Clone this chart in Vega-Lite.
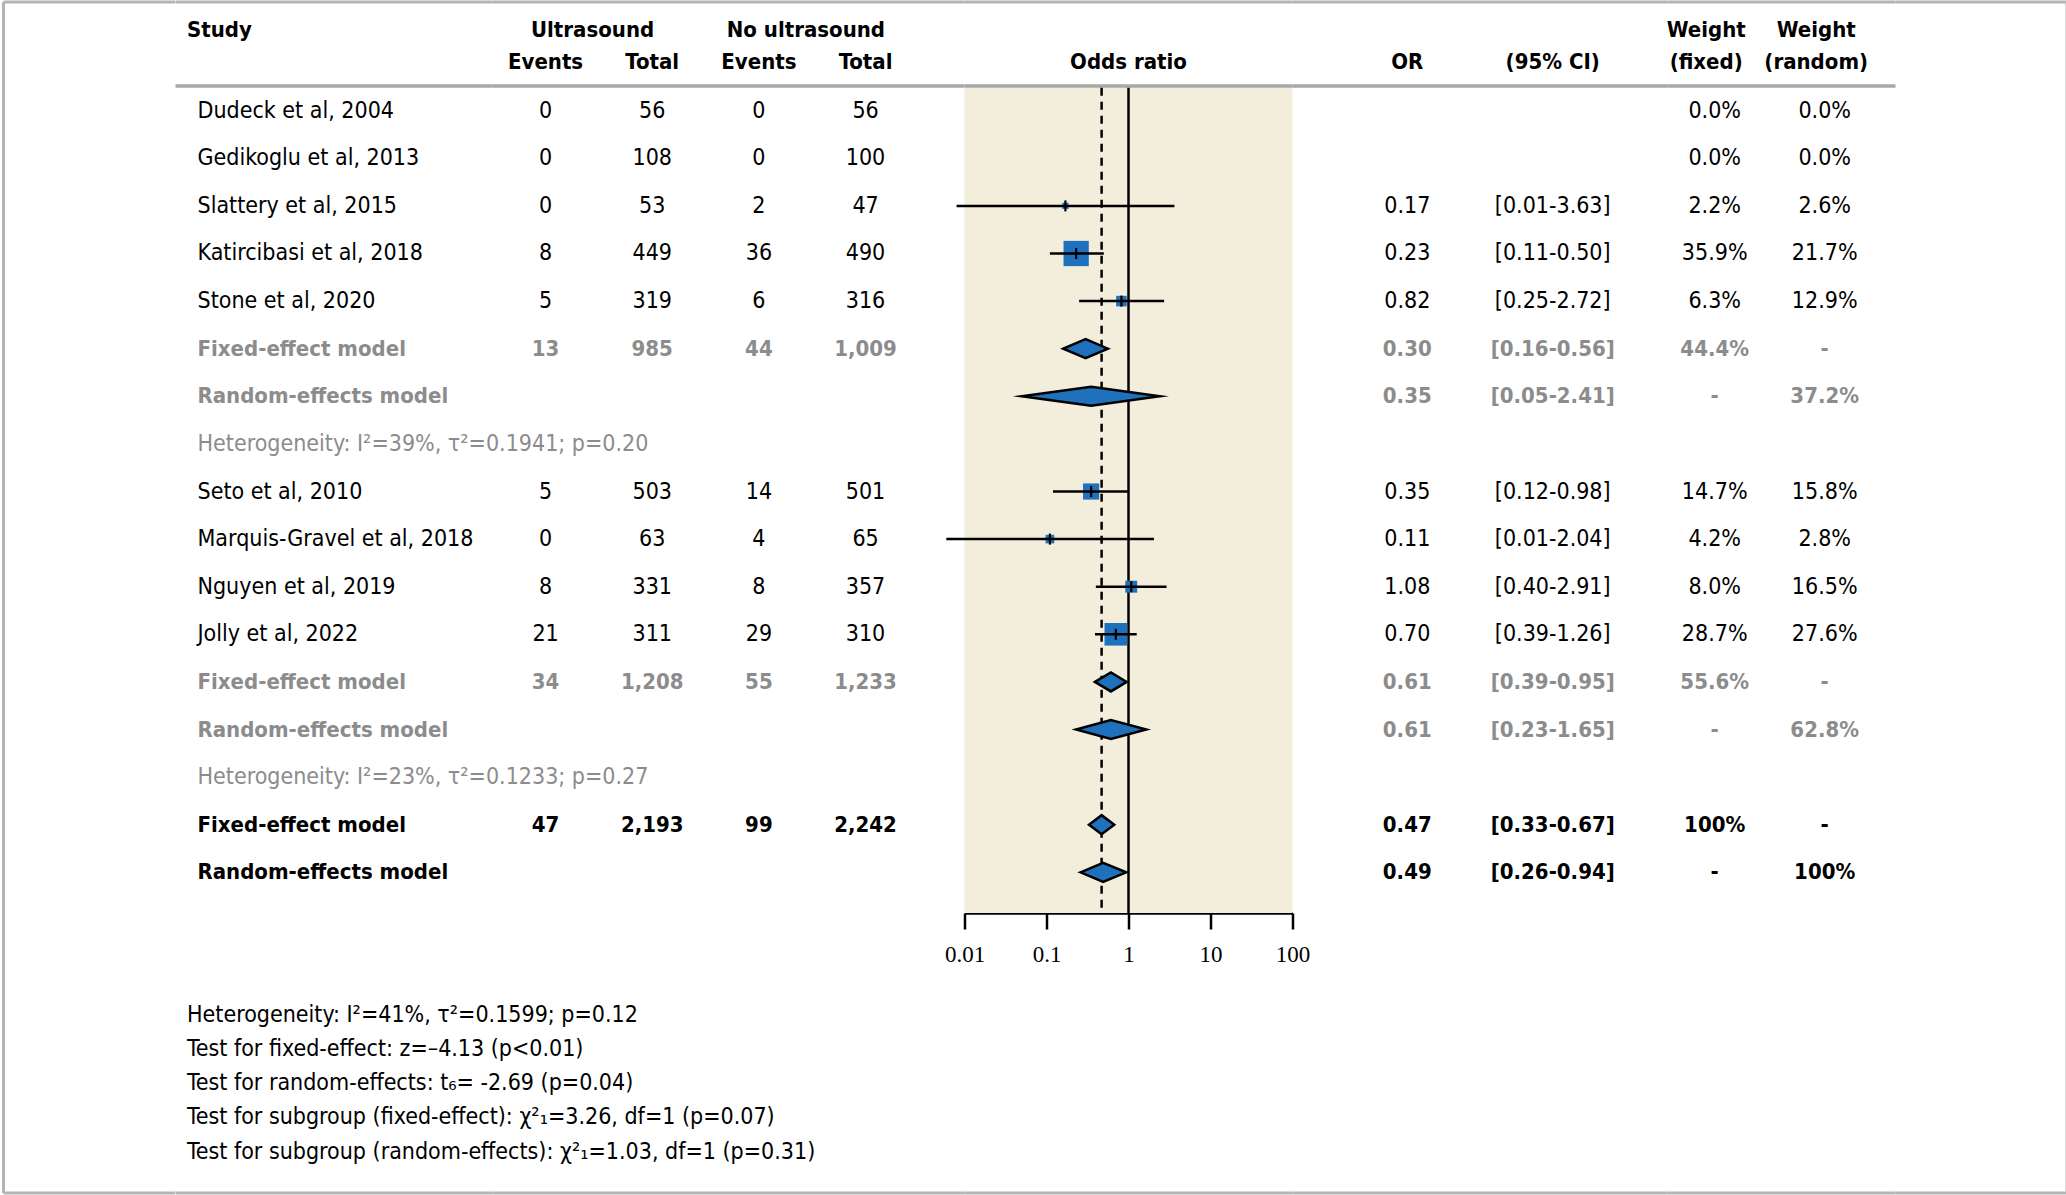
{
  "$schema": "https://vega.github.io/schema/vega-lite/v6.json",
  "background": "white",
  "padding": {"left": 1.5, "right": 1.5, "top": 0, "bottom": 0},
  "spacing": 0,
  "bounds": "flush",
  "config": {"view": {"stroke": null}},
  "datasets": {
    "rows": [
      {"row": 1, "kind": "study", "study": "Dudeck et al, 2004", "ev_u": "0", "tot_u": "56", "ev_n": "0", "tot_n": "56", "or_txt": "", "ci_txt": "", "wf": "0.0%", "wr": "0.0%"},
      {"row": 2, "kind": "study", "study": "Gedikoglu et al, 2013", "ev_u": "0", "tot_u": "108", "ev_n": "0", "tot_n": "100", "or_txt": "", "ci_txt": "", "wf": "0.0%", "wr": "0.0%"},
      {"row": 3, "kind": "study", "study": "Slattery et al, 2015", "ev_u": "0", "tot_u": "53", "ev_n": "2", "tot_n": "47", "or_txt": "0.17", "ci_txt": "[0.01-3.63]", "wf": "2.2%", "wr": "2.6%"},
      {"row": 4, "kind": "study", "study": "Katircibasi et al, 2018", "ev_u": "8", "tot_u": "449", "ev_n": "36", "tot_n": "490", "or_txt": "0.23", "ci_txt": "[0.11-0.50]", "wf": "35.9%", "wr": "21.7%"},
      {"row": 5, "kind": "study", "study": "Stone et al, 2020", "ev_u": "5", "tot_u": "319", "ev_n": "6", "tot_n": "316", "or_txt": "0.82", "ci_txt": "[0.25-2.72]", "wf": "6.3%", "wr": "12.9%"},
      {"row": 6, "kind": "sub", "study": "Fixed-effect model", "ev_u": "13", "tot_u": "985", "ev_n": "44", "tot_n": "1,009", "or_txt": "0.30", "ci_txt": "[0.16-0.56]", "wf": "44.4%", "wr": "-"},
      {"row": 7, "kind": "sub", "study": "Random-effects model", "ev_u": "", "tot_u": "", "ev_n": "", "tot_n": "", "or_txt": "0.35", "ci_txt": "[0.05-2.41]", "wf": "-", "wr": "37.2%"},
      {"row": 8, "kind": "het", "study": "Heterogeneity: I²=39%, τ²=0.1941; p=0.20", "ev_u": "", "tot_u": "", "ev_n": "", "tot_n": "", "or_txt": "", "ci_txt": "", "wf": "", "wr": ""},
      {"row": 9, "kind": "study", "study": "Seto et al, 2010", "ev_u": "5", "tot_u": "503", "ev_n": "14", "tot_n": "501", "or_txt": "0.35", "ci_txt": "[0.12-0.98]", "wf": "14.7%", "wr": "15.8%"},
      {"row": 10, "kind": "study", "study": "Marquis-Gravel et al, 2018", "ev_u": "0", "tot_u": "63", "ev_n": "4", "tot_n": "65", "or_txt": "0.11", "ci_txt": "[0.01-2.04]", "wf": "4.2%", "wr": "2.8%"},
      {"row": 11, "kind": "study", "study": "Nguyen et al, 2019", "ev_u": "8", "tot_u": "331", "ev_n": "8", "tot_n": "357", "or_txt": "1.08", "ci_txt": "[0.40-2.91]", "wf": "8.0%", "wr": "16.5%"},
      {"row": 12, "kind": "study", "study": "Jolly et al, 2022", "ev_u": "21", "tot_u": "311", "ev_n": "29", "tot_n": "310", "or_txt": "0.70", "ci_txt": "[0.39-1.26]", "wf": "28.7%", "wr": "27.6%"},
      {"row": 13, "kind": "sub", "study": "Fixed-effect model", "ev_u": "34", "tot_u": "1,208", "ev_n": "55", "tot_n": "1,233", "or_txt": "0.61", "ci_txt": "[0.39-0.95]", "wf": "55.6%", "wr": "-"},
      {"row": 14, "kind": "sub", "study": "Random-effects model", "ev_u": "", "tot_u": "", "ev_n": "", "tot_n": "", "or_txt": "0.61", "ci_txt": "[0.23-1.65]", "wf": "-", "wr": "62.8%"},
      {"row": 15, "kind": "het", "study": "Heterogeneity: I²=23%, τ²=0.1233; p=0.27", "ev_u": "", "tot_u": "", "ev_n": "", "tot_n": "", "or_txt": "", "ci_txt": "", "wf": "", "wr": ""},
      {"row": 16, "kind": "total", "study": "Fixed-effect model", "ev_u": "47", "tot_u": "2,193", "ev_n": "99", "tot_n": "2,242", "or_txt": "0.47", "ci_txt": "[0.33-0.67]", "wf": "100%", "wr": "-"},
      {"row": 17, "kind": "total", "study": "Random-effects model", "ev_u": "", "tot_u": "", "ev_n": "", "tot_n": "", "or_txt": "0.49", "ci_txt": "[0.26-0.94]", "wf": "-", "wr": "100%"}
    ],
    "est": [
      {"id": "s3", "row": 3, "type": "study", "or": 0.17, "lo": 0.008, "hi": 3.63, "w": 2.2},
      {"id": "s4", "row": 4, "type": "study", "or": 0.23, "lo": 0.11, "hi": 0.50, "w": 35.9},
      {"id": "s5", "row": 5, "type": "study", "or": 0.82, "lo": 0.25, "hi": 2.72, "w": 6.3},
      {"id": "d6", "row": 6, "type": "diamond", "or": 0.30, "lo": 0.16, "hi": 0.56},
      {"id": "d7", "row": 7, "type": "diamond", "or": 0.35, "lo": 0.05, "hi": 2.41},
      {"id": "s9", "row": 9, "type": "study", "or": 0.35, "lo": 0.12, "hi": 0.98, "w": 14.7},
      {"id": "s10", "row": 10, "type": "study", "or": 0.11, "lo": 0.006, "hi": 2.04, "w": 4.2},
      {"id": "s11", "row": 11, "type": "study", "or": 1.08, "lo": 0.40, "hi": 2.91, "w": 8.0},
      {"id": "s12", "row": 12, "type": "study", "or": 0.70, "lo": 0.39, "hi": 1.26, "w": 28.7},
      {"id": "d13", "row": 13, "type": "diamond", "or": 0.61, "lo": 0.39, "hi": 0.95},
      {"id": "d14", "row": 14, "type": "diamond", "or": 0.61, "lo": 0.23, "hi": 1.65},
      {"id": "d16", "row": 16, "type": "diamond", "or": 0.47, "lo": 0.33, "hi": 0.67},
      {"id": "d17", "row": 17, "type": "diamond", "or": 0.49, "lo": 0.26, "hi": 0.94}
    ],
    "headers": [
      {"panel": "study", "col": "study", "line": 1, "label": "Study"},
      {"panel": "num", "col": "ev_u", "line": 1, "label": "Ultrasound"},
      {"panel": "num", "col": "ev_n", "line": 1, "label": "No ultrasound"},
      {"panel": "num", "col": "ev_u", "line": 2, "label": "Events"},
      {"panel": "num", "col": "tot_u", "line": 2, "label": "Total"},
      {"panel": "num", "col": "ev_n", "line": 2, "label": "Events"},
      {"panel": "num", "col": "tot_n", "line": 2, "label": "Total"},
      {"panel": "forest", "col": "or", "line": 2, "label": "Odds ratio"},
      {"panel": "ci", "col": "or_txt", "line": 2, "label": "OR"},
      {"panel": "ci", "col": "ci_txt", "line": 2, "label": "(95% CI)"},
      {"panel": "wt", "col": "wf", "line": 1, "label": "Weight"},
      {"panel": "wt", "col": "wr", "line": 1, "label": "Weight"},
      {"panel": "wt", "col": "wf", "line": 2, "label": "(fixed)"},
      {"panel": "wt", "col": "wr", "line": 2, "label": "(random)"}
    ],
    "notes": [
      {"line": 1, "text": "Heterogeneity: I²=41%, τ²=0.1599; p=0.12"},
      {"line": 2, "text": "Test for fixed-effect: z=–4.13 (p<0.01)"},
      {"line": 3, "text": "Test for random-effects: t₆= -2.69 (p=0.04)"},
      {"line": 4, "text": "Test for subgroup (fixed-effect): χ²₁=3.26, df=1 (p=0.07)"},
      {"line": 5, "text": "Test for subgroup (random-effects): χ²₁=1.03, df=1 (p=0.31)"}
    ]
  },
  "hconcat": [
    {
      "width": 171.5, "height": 913,
      "layer": [
        {"data": {"values": [{}]}, "mark": {"type": "rule", "color": "#b4b4b4", "strokeWidth": 3},
         "encoding": {"y": {"datum": -1.2836, "type": "quantitative", "scale": {"domain": [-1.3256, 17.855], "reverse": true, "nice": false, "zero": false}, "axis": null}}},
        {"data": {"values": [{}]}, "mark": {"type": "rule", "color": "#b4b4b4", "strokeWidth": 3},
         "encoding": {"y": {"datum": 23.7376, "type": "quantitative", "scale": {"domain": [-1.3256, 17.855], "reverse": true, "nice": false, "zero": false}, "axis": null}}},
        {"data": {"values": [{}]}, "mark": {"type": "rule", "color": "#b4b4b4", "strokeWidth": 3},
         "encoding": {"x": {"datum": "edge", "type": "nominal", "scale": {"type": "point", "domain": ["edge"], "padding": 0, "align": 0}, "axis": null},
                      "y": {"datum": -1.2836, "type": "quantitative", "scale": {"domain": [-1.3256, 17.855], "reverse": true, "nice": false, "zero": false}, "axis": null},
                      "y2": {"datum": 23.7376}}}
      ]
    },
    {
      "width": 317, "height": 913,
      "resolve": {"scale": {"y": "independent"}},
      "layer": [
        {"data": {"values": [{}]}, "mark": {"type": "rule", "color": "#b4b4b4", "strokeWidth": 3},
         "encoding": {"y": {"datum": -1.2836, "type": "quantitative", "scale": {"domain": [-1.3256, 17.855], "reverse": true, "nice": false, "zero": false}, "axis": null}}},
        {"data": {"values": [{}]}, "mark": {"type": "rule", "color": "#b4b4b4", "strokeWidth": 3},
         "encoding": {"y": {"datum": 23.7376, "type": "quantitative", "scale": {"domain": [-1.3256, 17.855], "reverse": true, "nice": false, "zero": false}, "axis": null}}},
        {"data": {"values": [{}]}, "mark": {"type": "rule", "color": "#a8a8a8", "strokeWidth": 3.5},
         "encoding": {"y": {"datum": 0.481, "type": "quantitative", "scale": {"domain": [-1.3256, 17.855], "reverse": true, "nice": false, "zero": false}, "axis": null}}},
        {"data": {"name": "headers"}, "transform": [{"filter": "datum.panel === 'study'"}],
         "mark": {"type": "text", "align": "left", "baseline": "middle", "font": "DejaVu Sans Condensed, sans-serif", "fontSize": 22, "fontWeight": "bold", "color": "black", "dx": 11.5, "dy": -32.8},
         "encoding": {"x": {"datum": "study", "type": "nominal", "scale": {"type": "point", "domain": ["study"], "padding": 0, "align": 0}, "axis": null},
                      "y": {"datum": 0, "type": "quantitative", "scale": {"domain": [-1.3256, 17.855], "reverse": true, "nice": false, "zero": false}, "axis": null},
                      "text": {"field": "label"}}},
        {"data": {"name": "rows"}, "transform": [{"filter": "datum.kind === 'study'"}],
         "mark": {"type": "text", "align": "left", "baseline": "middle", "font": "DejaVu Sans Condensed, sans-serif", "fontSize": 23, "color": "black", "dx": 22},
         "encoding": {"x": {"datum": "study", "type": "nominal", "scale": {"type": "point", "domain": ["study"], "padding": 0, "align": 0}, "axis": null},
                      "y": {"field": "row", "type": "quantitative", "scale": {"domain": [-1.3256, 17.855], "reverse": true, "nice": false, "zero": false}, "axis": null},
                      "text": {"field": "study"}}},
        {"data": {"name": "rows"}, "transform": [{"filter": "datum.kind === 'sub'"}],
         "mark": {"type": "text", "align": "left", "baseline": "middle", "font": "DejaVu Sans Condensed, sans-serif", "fontSize": 22, "fontWeight": "bold", "color": "#8c8c8c", "dx": 22},
         "encoding": {"x": {"datum": "study", "type": "nominal", "scale": {"type": "point", "domain": ["study"], "padding": 0, "align": 0}, "axis": null},
                      "y": {"field": "row", "type": "quantitative", "scale": {"domain": [-1.3256, 17.855], "reverse": true, "nice": false, "zero": false}, "axis": null},
                      "text": {"field": "study"}}},
        {"data": {"name": "rows"}, "transform": [{"filter": "datum.kind === 'het'"}],
         "mark": {"type": "text", "align": "left", "baseline": "middle", "font": "DejaVu Sans Condensed, sans-serif", "fontSize": 23, "color": "#8c8c8c", "dx": 22},
         "encoding": {"x": {"datum": "study", "type": "nominal", "scale": {"type": "point", "domain": ["study"], "padding": 0, "align": 0}, "axis": null},
                      "y": {"field": "row", "type": "quantitative", "scale": {"domain": [-1.3256, 17.855], "reverse": true, "nice": false, "zero": false}, "axis": null},
                      "text": {"field": "study"}}},
        {"data": {"name": "rows"}, "transform": [{"filter": "datum.kind === 'total'"}],
         "mark": {"type": "text", "align": "left", "baseline": "middle", "font": "DejaVu Sans Condensed, sans-serif", "fontSize": 22, "fontWeight": "bold", "color": "black", "dx": 22},
         "encoding": {"x": {"datum": "study", "type": "nominal", "scale": {"type": "point", "domain": ["study"], "padding": 0, "align": 0}, "axis": null},
                      "y": {"field": "row", "type": "quantitative", "scale": {"domain": [-1.3256, 17.855], "reverse": true, "nice": false, "zero": false}, "axis": null},
                      "text": {"field": "study"}}},
        {"data": {"name": "notes"},
         "mark": {"type": "text", "align": "left", "baseline": "middle", "font": "DejaVu Sans Condensed, sans-serif", "fontSize": 23, "color": "black", "dx": 11.5},
         "encoding": {"x": {"datum": "study", "type": "nominal", "scale": {"type": "point", "domain": ["study"], "padding": 0, "align": 0}, "axis": null},
                      "y": {"field": "line", "type": "quantitative", "scale": {"domain": [-28.62, -1.966], "reverse": true, "nice": false, "zero": false}, "axis": null},
                      "text": {"field": "text"}}}
      ]
    },
    {
      "width": 472, "height": 913,
      "layer": [
        {"data": {"values": [{}]}, "mark": {"type": "rule", "color": "#b4b4b4", "strokeWidth": 3},
         "encoding": {"y": {"datum": -1.2836, "type": "quantitative", "scale": {"domain": [-1.3256, 17.855], "reverse": true, "nice": false, "zero": false}, "axis": null}}},
        {"data": {"values": [{}]}, "mark": {"type": "rule", "color": "#b4b4b4", "strokeWidth": 3},
         "encoding": {"y": {"datum": 23.7376, "type": "quantitative", "scale": {"domain": [-1.3256, 17.855], "reverse": true, "nice": false, "zero": false}, "axis": null}}},
        {"data": {"values": [{}]}, "mark": {"type": "rule", "color": "#a8a8a8", "strokeWidth": 3.5},
         "encoding": {"y": {"datum": 0.481, "type": "quantitative", "scale": {"domain": [-1.3256, 17.855], "reverse": true, "nice": false, "zero": false}, "axis": null}}},
        {"data": {"name": "headers"}, "transform": [{"filter": "datum.panel === 'num' && datum.line === 1"}],
         "mark": {"type": "text", "align": "center", "baseline": "middle", "font": "DejaVu Sans Condensed, sans-serif", "fontSize": 22, "fontWeight": "bold", "color": "black", "dx": 47, "dy": -32.8},
         "encoding": {"x": {"field": "col", "type": "nominal", "scale": {"type": "point", "domain": ["ev_u", "tot_u", "ev_n", "tot_n"], "padding": 0.7125, "align": 0.349}, "axis": null},
                      "y": {"datum": 0, "type": "quantitative", "scale": {"domain": [-1.3256, 17.855], "reverse": true, "nice": false, "zero": false}, "axis": null},
                      "text": {"field": "label"}}},
        {"data": {"name": "headers"}, "transform": [{"filter": "datum.panel === 'num' && datum.line === 2"}],
         "mark": {"type": "text", "align": "center", "baseline": "middle", "font": "DejaVu Sans Condensed, sans-serif", "fontSize": 22, "fontWeight": "bold", "color": "black", "dy": -1.2},
         "encoding": {"x": {"field": "col", "type": "nominal", "scale": {"type": "point", "domain": ["ev_u", "tot_u", "ev_n", "tot_n"], "padding": 0.7125, "align": 0.349}, "axis": null},
                      "y": {"datum": 0, "type": "quantitative", "scale": {"domain": [-1.3256, 17.855], "reverse": true, "nice": false, "zero": false}, "axis": null},
                      "text": {"field": "label"}}},
        {"data": {"name": "rows"}, "transform": [{"filter": "datum.kind === 'study'"}, {"fold": ["ev_u", "tot_u", "ev_n", "tot_n"], "as": ["col", "val"]}],
         "mark": {"type": "text", "align": "center", "baseline": "middle", "font": "DejaVu Sans Condensed, sans-serif", "fontSize": 23, "color": "black"},
         "encoding": {"x": {"field": "col", "type": "nominal", "scale": {"type": "point", "domain": ["ev_u", "tot_u", "ev_n", "tot_n"], "padding": 0.7125, "align": 0.349}, "axis": null},
                      "y": {"field": "row", "type": "quantitative", "scale": {"domain": [-1.3256, 17.855], "reverse": true, "nice": false, "zero": false}, "axis": null},
                      "text": {"field": "val"}}},
        {"data": {"name": "rows"}, "transform": [{"filter": "datum.kind === 'sub'"}, {"fold": ["ev_u", "tot_u", "ev_n", "tot_n"], "as": ["col", "val"]}],
         "mark": {"type": "text", "align": "center", "baseline": "middle", "font": "DejaVu Sans Condensed, sans-serif", "fontSize": 22, "fontWeight": "bold", "color": "#8c8c8c"},
         "encoding": {"x": {"field": "col", "type": "nominal", "scale": {"type": "point", "domain": ["ev_u", "tot_u", "ev_n", "tot_n"], "padding": 0.7125, "align": 0.349}, "axis": null},
                      "y": {"field": "row", "type": "quantitative", "scale": {"domain": [-1.3256, 17.855], "reverse": true, "nice": false, "zero": false}, "axis": null},
                      "text": {"field": "val"}}},
        {"data": {"name": "rows"}, "transform": [{"filter": "datum.kind === 'total'"}, {"fold": ["ev_u", "tot_u", "ev_n", "tot_n"], "as": ["col", "val"]}],
         "mark": {"type": "text", "align": "center", "baseline": "middle", "font": "DejaVu Sans Condensed, sans-serif", "fontSize": 22, "fontWeight": "bold", "color": "black"},
         "encoding": {"x": {"field": "col", "type": "nominal", "scale": {"type": "point", "domain": ["ev_u", "tot_u", "ev_n", "tot_n"], "padding": 0.7125, "align": 0.349}, "axis": null},
                      "y": {"field": "row", "type": "quantitative", "scale": {"domain": [-1.3256, 17.855], "reverse": true, "nice": false, "zero": false}, "axis": null},
                      "text": {"field": "val"}}}
      ]
    },
    {
      "width": 328, "height": 913,
      "layer": [
        {"data": {"values": [{}]}, "mark": {"type": "rect", "fill": "#f2eedb"},
         "encoding": {"x": {"datum": 0.01, "type": "quantitative", "scale": {"type": "log", "domain": [0.01, 100], "nice": false},
                            "axis": {"values": [0.01, 0.1, 1, 10, 100], "format": "~g", "title": null, "grid": false, "domainColor": "black", "domainWidth": 2.5, "tickColor": "black", "tickWidth": 2.5, "tickSize": 16, "labelFont": "Liberation Serif", "labelFontSize": 23, "labelColor": "black", "labelPadding": 14, "labelFlush": false, "labelOverlap": false}},
                      "x2": {"datum": 100},
                      "y": {"datum": 0.481, "type": "quantitative", "scale": {"domain": [-1.3256, 17.855], "reverse": true, "nice": false, "zero": false}, "axis": null},
                      "y2": {"datum": 17.855}}},
        {"data": {"values": [{}]}, "mark": {"type": "rule", "color": "#b4b4b4", "strokeWidth": 3},
         "encoding": {"y": {"datum": -1.2836, "type": "quantitative", "scale": {"domain": [-1.3256, 17.855], "reverse": true, "nice": false, "zero": false}, "axis": null}}},
        {"data": {"values": [{}]}, "mark": {"type": "rule", "color": "#b4b4b4", "strokeWidth": 3},
         "encoding": {"y": {"datum": 23.7376, "type": "quantitative", "scale": {"domain": [-1.3256, 17.855], "reverse": true, "nice": false, "zero": false}, "axis": null}}},
        {"data": {"values": [{}]}, "mark": {"type": "rule", "color": "#a8a8a8", "strokeWidth": 3.5},
         "encoding": {"y": {"datum": 0.481, "type": "quantitative", "scale": {"domain": [-1.3256, 17.855], "reverse": true, "nice": false, "zero": false}, "axis": null}}},
        {"data": {"values": [{}]}, "mark": {"type": "rule", "color": "black", "strokeWidth": 2.5},
         "encoding": {"x": {"datum": 1, "type": "quantitative", "scale": {"type": "log", "domain": [0.01, 100], "nice": false}},
                      "y": {"datum": 0.52, "type": "quantitative", "scale": {"domain": [-1.3256, 17.855], "reverse": true, "nice": false, "zero": false}, "axis": null},
                      "y2": {"datum": 17.855}}},
        {"data": {"name": "est"}, "transform": [{"filter": "datum.id === 'd16'"}],
         "mark": {"type": "rule", "color": "black", "strokeWidth": 2.5, "strokeDash": [8, 6]},
         "encoding": {"x": {"field": "or", "type": "quantitative", "scale": {"type": "log", "domain": [0.01, 100], "nice": false}},
                      "y": {"datum": 0.52, "type": "quantitative", "scale": {"domain": [-1.3256, 17.855], "reverse": true, "nice": false, "zero": false}, "axis": null},
                      "y2": {"datum": 17.855}}},
        {"data": {"name": "est"}, "transform": [{"filter": "datum.type === 'study'"}],
         "mark": {"type": "point", "shape": "square", "filled": true, "color": "#1f71bd", "opacity": 1, "strokeWidth": 0},
         "encoding": {"x": {"field": "or", "type": "quantitative", "scale": {"type": "log", "domain": [0.01, 100], "nice": false}},
                      "y": {"field": "row", "type": "quantitative", "scale": {"domain": [-1.3256, 17.855], "reverse": true, "nice": false, "zero": false}, "axis": null},
                      "size": {"field": "w", "type": "quantitative", "scale": {"domain": [0, 36], "range": [0, 640]}, "legend": null}}},
        {"data": {"name": "est"}, "transform": [{"filter": "datum.type === 'study'"}],
         "mark": {"type": "rule", "color": "black", "strokeWidth": 2.5},
         "encoding": {"x": {"field": "lo", "type": "quantitative", "scale": {"type": "log", "domain": [0.01, 100], "nice": false}},
                      "x2": {"field": "hi"},
                      "y": {"field": "row", "type": "quantitative", "scale": {"domain": [-1.3256, 17.855], "reverse": true, "nice": false, "zero": false}, "axis": null}}},
        {"data": {"name": "est"}, "transform": [{"filter": "datum.type === 'study'"}],
         "mark": {"type": "tick", "orient": "vertical", "color": "black", "opacity": 1, "size": 11, "thickness": 2.2},
         "encoding": {"x": {"field": "or", "type": "quantitative", "scale": {"type": "log", "domain": [0.01, 100], "nice": false}},
                      "y": {"field": "row", "type": "quantitative", "scale": {"domain": [-1.3256, 17.855], "reverse": true, "nice": false, "zero": false}, "axis": null}}},
        {"data": {"name": "est"},
         "transform": [{"filter": "datum.type === 'diamond'"}, {"fold": ["lo", "or", "hi"], "as": ["vk", "vx"]},
                       {"calculate": "datum.vk === 'or' ? datum.row - 0.2 : datum.row", "as": "yt"},
                       {"calculate": "datum.vk === 'or' ? datum.row + 0.2 : datum.row", "as": "yb"}],
         "mark": {"type": "area", "orient": "vertical", "fill": "#1f71bd", "stroke": "black", "strokeWidth": 2.5, "strokeJoin": "miter", "strokeMiterLimit": 30, "opacity": 1},
         "encoding": {"x": {"field": "vx", "type": "quantitative", "scale": {"type": "log", "domain": [0.01, 100], "nice": false}},
                      "y": {"field": "yt", "type": "quantitative", "stack": null, "scale": {"domain": [-1.3256, 17.855], "reverse": true, "nice": false, "zero": false}, "axis": null},
                      "y2": {"field": "yb"},
                      "detail": {"field": "id"}}},
        {"data": {"name": "headers"}, "transform": [{"filter": "datum.panel === 'forest'"}],
         "mark": {"type": "text", "align": "center", "baseline": "middle", "font": "DejaVu Sans Condensed, sans-serif", "fontSize": 22, "fontWeight": "bold", "color": "black", "dy": -1.2},
         "encoding": {"x": {"datum": 1, "type": "quantitative", "scale": {"type": "log", "domain": [0.01, 100], "nice": false}},
                      "y": {"datum": 0, "type": "quantitative", "scale": {"domain": [-1.3256, 17.855], "reverse": true, "nice": false, "zero": false}, "axis": null},
                      "text": {"field": "label"}}}
      ]
    },
    {
      "width": 375, "height": 913,
      "layer": [
        {"data": {"values": [{}]}, "mark": {"type": "rule", "color": "#b4b4b4", "strokeWidth": 3},
         "encoding": {"y": {"datum": -1.2836, "type": "quantitative", "scale": {"domain": [-1.3256, 17.855], "reverse": true, "nice": false, "zero": false}, "axis": null}}},
        {"data": {"values": [{}]}, "mark": {"type": "rule", "color": "#b4b4b4", "strokeWidth": 3},
         "encoding": {"y": {"datum": 23.7376, "type": "quantitative", "scale": {"domain": [-1.3256, 17.855], "reverse": true, "nice": false, "zero": false}, "axis": null}}},
        {"data": {"values": [{}]}, "mark": {"type": "rule", "color": "#a8a8a8", "strokeWidth": 3.5},
         "encoding": {"y": {"datum": 0.481, "type": "quantitative", "scale": {"domain": [-1.3256, 17.855], "reverse": true, "nice": false, "zero": false}, "axis": null}}},
        {"data": {"name": "headers"}, "transform": [{"filter": "datum.panel === 'ci'"}],
         "mark": {"type": "text", "align": "center", "baseline": "middle", "font": "DejaVu Sans Condensed, sans-serif", "fontSize": 22, "fontWeight": "bold", "color": "black", "dy": -1.2},
         "encoding": {"x": {"field": "col", "type": "nominal", "scale": {"type": "point", "domain": ["or_txt", "ci_txt"], "padding": 0.789}, "axis": null},
                      "y": {"datum": 0, "type": "quantitative", "scale": {"domain": [-1.3256, 17.855], "reverse": true, "nice": false, "zero": false}, "axis": null},
                      "text": {"field": "label"}}},
        {"data": {"name": "rows"}, "transform": [{"filter": "datum.kind === 'study'"}, {"fold": ["or_txt", "ci_txt"], "as": ["col", "val"]}],
         "mark": {"type": "text", "align": "center", "baseline": "middle", "font": "DejaVu Sans Condensed, sans-serif", "fontSize": 23, "color": "black"},
         "encoding": {"x": {"field": "col", "type": "nominal", "scale": {"type": "point", "domain": ["or_txt", "ci_txt"], "padding": 0.789}, "axis": null},
                      "y": {"field": "row", "type": "quantitative", "scale": {"domain": [-1.3256, 17.855], "reverse": true, "nice": false, "zero": false}, "axis": null},
                      "text": {"field": "val"}}},
        {"data": {"name": "rows"}, "transform": [{"filter": "datum.kind === 'sub'"}, {"fold": ["or_txt", "ci_txt"], "as": ["col", "val"]}],
         "mark": {"type": "text", "align": "center", "baseline": "middle", "font": "DejaVu Sans Condensed, sans-serif", "fontSize": 22, "fontWeight": "bold", "color": "#8c8c8c"},
         "encoding": {"x": {"field": "col", "type": "nominal", "scale": {"type": "point", "domain": ["or_txt", "ci_txt"], "padding": 0.789}, "axis": null},
                      "y": {"field": "row", "type": "quantitative", "scale": {"domain": [-1.3256, 17.855], "reverse": true, "nice": false, "zero": false}, "axis": null},
                      "text": {"field": "val"}}},
        {"data": {"name": "rows"}, "transform": [{"filter": "datum.kind === 'total'"}, {"fold": ["or_txt", "ci_txt"], "as": ["col", "val"]}],
         "mark": {"type": "text", "align": "center", "baseline": "middle", "font": "DejaVu Sans Condensed, sans-serif", "fontSize": 22, "fontWeight": "bold", "color": "black"},
         "encoding": {"x": {"field": "col", "type": "nominal", "scale": {"type": "point", "domain": ["or_txt", "ci_txt"], "padding": 0.789}, "axis": null},
                      "y": {"field": "row", "type": "quantitative", "scale": {"domain": [-1.3256, 17.855], "reverse": true, "nice": false, "zero": false}, "axis": null},
                      "text": {"field": "val"}}}
      ]
    },
    {
      "width": 228, "height": 913,
      "layer": [
        {"data": {"values": [{}]}, "mark": {"type": "rule", "color": "#b4b4b4", "strokeWidth": 3},
         "encoding": {"y": {"datum": -1.2836, "type": "quantitative", "scale": {"domain": [-1.3256, 17.855], "reverse": true, "nice": false, "zero": false}, "axis": null}}},
        {"data": {"values": [{}]}, "mark": {"type": "rule", "color": "#b4b4b4", "strokeWidth": 3},
         "encoding": {"y": {"datum": 23.7376, "type": "quantitative", "scale": {"domain": [-1.3256, 17.855], "reverse": true, "nice": false, "zero": false}, "axis": null}}},
        {"data": {"values": [{}]}, "mark": {"type": "rule", "color": "#a8a8a8", "strokeWidth": 3.5},
         "encoding": {"y": {"datum": 0.481, "type": "quantitative", "scale": {"domain": [-1.3256, 17.855], "reverse": true, "nice": false, "zero": false}, "axis": null}}},
        {"data": {"name": "headers"}, "transform": [{"filter": "datum.panel === 'wt' && datum.line === 1"}],
         "mark": {"type": "text", "align": "center", "baseline": "middle", "font": "DejaVu Sans Condensed, sans-serif", "fontSize": 22, "fontWeight": "bold", "color": "black", "dx": -8.5, "dy": -32.8},
         "encoding": {"x": {"field": "col", "type": "nominal", "scale": {"type": "point", "domain": ["wf", "wr"], "padding": 0.5364, "align": 0.4}, "axis": null},
                      "y": {"datum": 0, "type": "quantitative", "scale": {"domain": [-1.3256, 17.855], "reverse": true, "nice": false, "zero": false}, "axis": null},
                      "text": {"field": "label"}}},
        {"data": {"name": "headers"}, "transform": [{"filter": "datum.panel === 'wt' && datum.line === 2"}],
         "mark": {"type": "text", "align": "center", "baseline": "middle", "font": "DejaVu Sans Condensed, sans-serif", "fontSize": 22, "fontWeight": "bold", "color": "black", "dx": -8.5, "dy": -1.2},
         "encoding": {"x": {"field": "col", "type": "nominal", "scale": {"type": "point", "domain": ["wf", "wr"], "padding": 0.5364, "align": 0.4}, "axis": null},
                      "y": {"datum": 0, "type": "quantitative", "scale": {"domain": [-1.3256, 17.855], "reverse": true, "nice": false, "zero": false}, "axis": null},
                      "text": {"field": "label"}}},
        {"data": {"name": "rows"}, "transform": [{"filter": "datum.kind === 'study'"}, {"fold": ["wf", "wr"], "as": ["col", "val"]}],
         "mark": {"type": "text", "align": "center", "baseline": "middle", "font": "DejaVu Sans Condensed, sans-serif", "fontSize": 23, "color": "black"},
         "encoding": {"x": {"field": "col", "type": "nominal", "scale": {"type": "point", "domain": ["wf", "wr"], "padding": 0.5364, "align": 0.4}, "axis": null},
                      "y": {"field": "row", "type": "quantitative", "scale": {"domain": [-1.3256, 17.855], "reverse": true, "nice": false, "zero": false}, "axis": null},
                      "text": {"field": "val"}}},
        {"data": {"name": "rows"}, "transform": [{"filter": "datum.kind === 'sub'"}, {"fold": ["wf", "wr"], "as": ["col", "val"]}],
         "mark": {"type": "text", "align": "center", "baseline": "middle", "font": "DejaVu Sans Condensed, sans-serif", "fontSize": 22, "fontWeight": "bold", "color": "#8c8c8c"},
         "encoding": {"x": {"field": "col", "type": "nominal", "scale": {"type": "point", "domain": ["wf", "wr"], "padding": 0.5364, "align": 0.4}, "axis": null},
                      "y": {"field": "row", "type": "quantitative", "scale": {"domain": [-1.3256, 17.855], "reverse": true, "nice": false, "zero": false}, "axis": null},
                      "text": {"field": "val"}}},
        {"data": {"name": "rows"}, "transform": [{"filter": "datum.kind === 'total'"}, {"fold": ["wf", "wr"], "as": ["col", "val"]}],
         "mark": {"type": "text", "align": "center", "baseline": "middle", "font": "DejaVu Sans Condensed, sans-serif", "fontSize": 22, "fontWeight": "bold", "color": "black"},
         "encoding": {"x": {"field": "col", "type": "nominal", "scale": {"type": "point", "domain": ["wf", "wr"], "padding": 0.5364, "align": 0.4}, "axis": null},
                      "y": {"field": "row", "type": "quantitative", "scale": {"domain": [-1.3256, 17.855], "reverse": true, "nice": false, "zero": false}, "axis": null},
                      "text": {"field": "val"}}}
      ]
    },
    {
      "width": 171.5, "height": 913,
      "layer": [
        {"data": {"values": [{}]}, "mark": {"type": "rule", "color": "#b4b4b4", "strokeWidth": 3},
         "encoding": {"y": {"datum": -1.2836, "type": "quantitative", "scale": {"domain": [-1.3256, 17.855], "reverse": true, "nice": false, "zero": false}, "axis": null}}},
        {"data": {"values": [{}]}, "mark": {"type": "rule", "color": "#b4b4b4", "strokeWidth": 3},
         "encoding": {"y": {"datum": 23.7376, "type": "quantitative", "scale": {"domain": [-1.3256, 17.855], "reverse": true, "nice": false, "zero": false}, "axis": null}}},
        {"data": {"values": [{}]}, "mark": {"type": "rule", "color": "#b4b4b4", "strokeWidth": 3},
         "encoding": {"x": {"datum": "edge", "type": "nominal", "scale": {"type": "point", "domain": ["edge"], "padding": 0, "align": 1}, "axis": null},
                      "y": {"datum": -1.2836, "type": "quantitative", "scale": {"domain": [-1.3256, 17.855], "reverse": true, "nice": false, "zero": false}, "axis": null},
                      "y2": {"datum": 23.7376}}}
      ]
    }
  ]
}
